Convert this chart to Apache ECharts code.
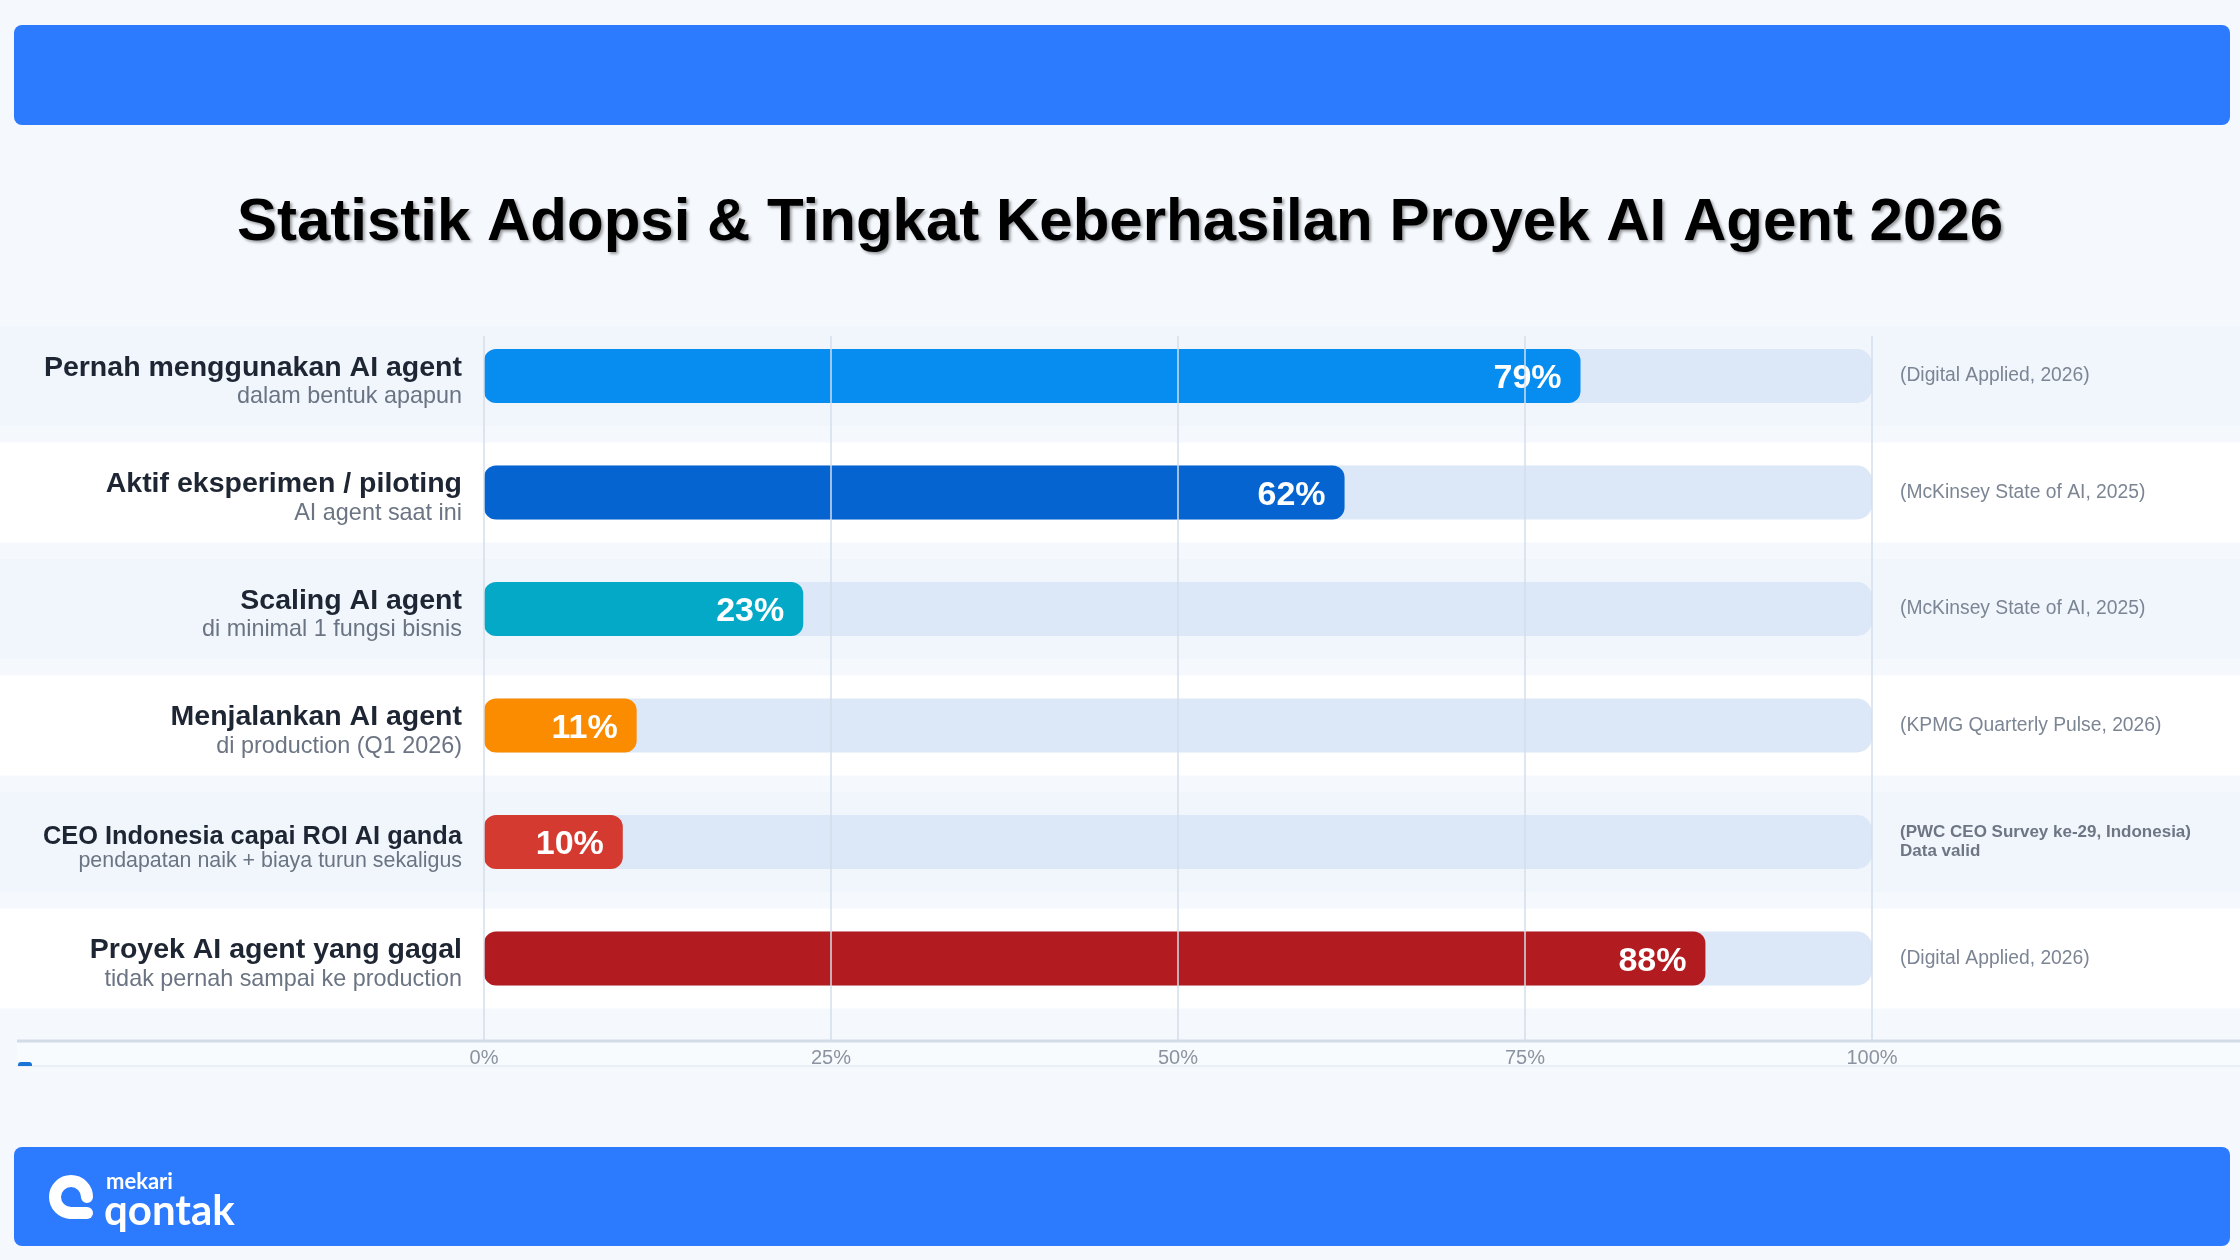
<!DOCTYPE html>
<html><head><meta charset="utf-8">
<script src="https://cdn.jsdelivr.net/npm/echarts@6/dist/echarts.min.js"></script>
<style>html,body{margin:0;padding:0;background:#f5f9fe}#c{width:2240px;height:1260px}</style>
</head><body><div id="c"></div>
<script>
const titleText = 'Statistik Adopsi & Tingkat Keberhasilan Proyek AI Agent 2026';
const categories = ['Pernah menggunakan AI agent', 'Aktif eksperimen / piloting', 'Scaling AI agent', 'Menjalankan AI agent', 'CEO Indonesia capai ROI AI ganda', 'Proyek AI agent yang gagal'];
const subtitles = ['dalam bentuk apapun', 'AI agent saat ini', 'di minimal 1 fungsi bisnis', 'di production (Q1 2026)', 'pendapatan naik + biaya turun sekaligus', 'tidak pernah sampai ke production'];
const values = [79, 62, 23, 11, 10, 88];
const sources = ['(Digital Applied, 2026)', '(McKinsey State of AI, 2025)', '(McKinsey State of AI, 2025)', '(KPMG Quarterly Pulse, 2026)', '(PWC CEO Survey ke-29, Indonesia)\nData valid', '(Digital Applied, 2026)'];
const barColors = ['#078cf0', '#0564d0', '#04a9c8', '#fb8c00', '#d53a30', '#b21c20'];
const axisMin = 0, axisMax = 100, axisStep = 25;

const FONT = '"Liberation Sans", Arial, sans-serif';
const chart = echarts.init(document.getElementById('c'), null, {renderer: 'canvas'});

const GRID_LEFT = 484, GRID_W = 1388;
const AXIS_Y = 1041;

const option = {
  backgroundColor: '#f5f9fe',
  animation: false,
  title: {
    text: titleText, left: 'center', top: 186,
    textStyle: {fontFamily: FONT, fontSize: 60, fontWeight: 'bold', color: '#000', lineHeight: 64,
      textShadowColor: 'rgba(0,0,0,0.38)', textShadowBlur: 3, textShadowOffsetX: 2, textShadowOffsetY: 2}
  },
  grid: [
    {left: GRID_LEFT, width: GRID_W, top: 317.75, height: 699},
    {left: GRID_LEFT, width: GRID_W, top: 336, height: AXIS_Y - 336}
  ],
  xAxis: [
    {gridIndex: 0, type: 'value', min: axisMin, max: axisMax, show: false},
    {gridIndex: 1, type: 'value', min: axisMin, max: axisMax, interval: axisStep, z: 10,
      axisLine: {show: false}, axisTick: {show: false},
      splitLine: {show: true, lineStyle: {color: '#d3deea', width: 1.5}},
      axisLabel: {formatter: '{value}%', margin: 7, color: '#8a939f', fontSize: 20, fontFamily: FONT}}
  ],
  yAxis: [
    {gridIndex: 0, type: 'category', data: categories, inverse: true,
      axisLine: {show: false}, axisTick: {show: false}, splitLine: {show: false},
      axisLabel: {
        margin: 22, align: 'right',
        formatter: (v, i) => v.length > 30 ? `{m2|${v}}\n{s2|${subtitles[i]}}` : `{m|${v}}\n{s|${subtitles[i]}}`,
        rich: {
          m: {fontFamily: FONT, fontSize: 28.5, fontWeight: 'bold', color: '#1e2533', lineHeight: 42, align: 'right'},
          s: {fontFamily: FONT, fontSize: 23.4, color: '#6b7482', lineHeight: 16, align: 'right'},
          m2: {fontFamily: FONT, fontSize: 25.4, fontWeight: 'bold', color: '#1e2533', lineHeight: 39, align: 'right'},
          s2: {fontFamily: FONT, fontSize: 21.4, color: '#6b7482', lineHeight: 10, align: 'right'}
        }
      }},
    {gridIndex: 0, type: 'category', data: categories, inverse: true, position: 'right',
      axisLine: {show: false}, axisTick: {show: false}, splitLine: {show: false},
      axisLabel: {
        margin: 28, align: 'left',
        formatter: (v, i) => sources[i].indexOf('\n') >= 0
          ? sources[i].split('\n').map(t => `{b|${t}}`).join('\n')
          : `{n|${sources[i]}}`,
        rich: {
          n: {fontFamily: FONT, fontSize: 19.3, color: '#7c8594'},
          b: {fontFamily: FONT, fontSize: 17, fontWeight: 'bold', color: '#6e7684', lineHeight: 19}
        }
      }},
    {gridIndex: 1, type: 'value', show: false}
  ],
  series: [{
    type: 'bar', xAxisIndex: 0, yAxisIndex: 0, z: 3,
    barWidth: 54,
    data: values.map((v, i) => ({value: v, itemStyle: {color: barColors[i]}})),
    itemStyle: {borderRadius: 12},
    showBackground: true,
    backgroundStyle: {color: '#dce8f7', borderRadius: 15},
    label: {show: true, position: 'insideRight', distance: 19, formatter: '{c}%', offset: [0, 3],
      color: '#fff', fontSize: 34, fontWeight: 'bold', fontFamily: FONT}
  }]
};
chart.setOption(option);

// decorative row bands placed from the chart's own category scale
const els = [];
categories.forEach((c, i) => {
  const yc = chart.convertToPixel({yAxisIndex: 0}, c);
  els.push({type: 'rect', z: -10, silent: true,
    shape: {x: 0, y: yc - 50, width: 2240, height: 100},
    style: {fill: i % 2 === 1 ? '#ffffff' : 'rgba(234,241,251,0.35)'}});
});
// header & footer bars
els.push({type: 'rect', z: 1, shape: {x: 14, y: 25, width: 2216, height: 100, r: 8}, style: {fill: '#2c7bff'}});
els.push({type: 'rect', z: 1, shape: {x: 14, y: 1147, width: 2216, height: 99, r: 8}, style: {fill: '#2c7bff'}});
// axis baseline
els.push({type: 'rect', z: -9, shape: {x: 17, y: AXIS_Y, width: 2223, height: 25}, style: {fill: '#f8fbfe'}});
els.push({type: 'line', z: 5, shape: {x1: 17, y1: AXIS_Y, x2: 2240, y2: AXIS_Y}, style: {stroke: '#d2dce7', lineWidth: 3}});
els.push({type: 'line', z: 5, shape: {x1: 17, y1: AXIS_Y + 25, x2: 2240, y2: AXIS_Y + 25}, style: {stroke: '#e9eff6', lineWidth: 2}});
els.push({type: 'rect', z: 6, shape: {x: 18, y: 1062, width: 14, height: 4, r: [3, 3, 0, 0]}, style: {fill: '#1a74d6'}});
// logo
els.push({type: 'arc', z: 2, shape: {cx: 71, cy: 1197, r: 16, startAngle: Math.PI / 2, endAngle: Math.PI * 2, clockwise: true},
  style: {stroke: '#fff', lineWidth: 12, lineCap: 'round', fill: null}});
els.push({type: 'line', z: 2, shape: {x1: 71, y1: 1213, x2: 87, y2: 1213}, style: {stroke: '#fff', lineWidth: 12, lineCap: 'round'}});
els.push({type: 'text', z: 2, x: 106, y: 1182, style: {text: 'mekari', fill: '#fff', font: 'bold 22px Lato, "Open Sans", sans-serif', textVerticalAlign: 'middle'}});
els.push({type: 'text', z: 2, x: 104, y: 1211, style: {text: 'qontak', fill: '#fff', font: 'bold 42px Lato, "Open Sans", sans-serif', textVerticalAlign: 'middle'}});

chart.setOption({graphic: {elements: els}});
</script>
</body></html>
